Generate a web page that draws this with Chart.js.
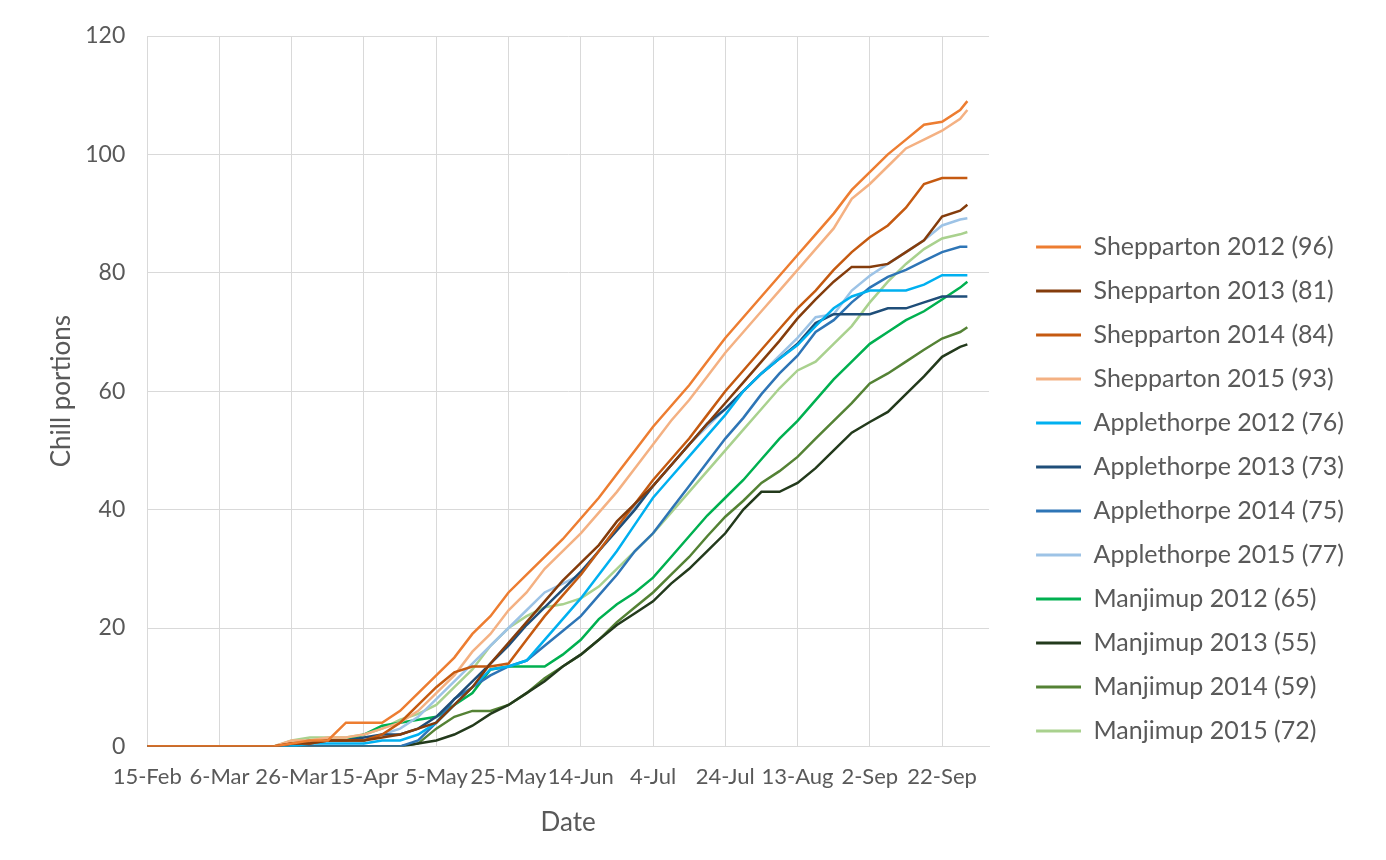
<!DOCTYPE html>
<html>
<head>
<meta charset="utf-8">
<script src="https://cdn.jsdelivr.net/npm/chart.js@4/dist/chart.umd.min.js"></script>
<style>
  html, body { margin: 0; padding: 0; background: #ffffff; }
  #wrap { width: 1386px; height: 860px; position: relative; }
</style>
</head>
<body>
<div id="wrap"><canvas id="c"></canvas></div>
<script>
// Days after 15-Feb (2012 calendar)
const days = [0,35,40,45,50,55,60,65,70,75,80,85,90,95,100,105,110,115,120,125,130,135,140,145,150,155,160,165,170,175,180,185,190,195,200,205,210,215,220,225,227];

const tickLabels = ['15-Feb','6-Mar','26-Mar','15-Apr','5-May','25-May','14-Jun','4-Jul','24-Jul','13-Aug','2-Sep','22-Sep'];

const seriesNames = [
  'Shepparton 2012 (96)','Shepparton 2013 (81)','Shepparton 2014 (84)','Shepparton 2015 (93)',
  'Applethorpe 2012 (76)','Applethorpe 2013 (73)','Applethorpe 2014 (75)','Applethorpe 2015 (77)',
  'Manjimup 2012 (65)','Manjimup 2013 (55)','Manjimup 2014 (59)','Manjimup 2015 (72)'
];

const shepparton2012 = [0,0,0.5,1,1,4,4,4,6,9,12,15,19,22,26,29,32,35,38.5,42,46,50,54,57.5,61,65,69,72.5,76,79.5,83,86.5,90,94,97,100,102.5,105,105.5,107.5,109];
const shepparton2013 = [0,0,0.5,0.5,1,1,1,1.5,2,3,4,7,10,14,17.5,21,24.5,28,31,34,38,41,44,47.5,51,54.5,58,61.5,65,68.5,72.3,75.5,78.5,81,81,81.5,83.5,85.5,89.5,90.5,91.5];
const shepparton2014 = [0,0,0.5,0.5,1,1,1,2,4,7,10,12.5,13.5,13.5,14,18,22,25.5,29,33,37,41,45,48.5,52,56,60,63.5,67,70.5,74,77,80.5,83.5,86,88,91,95,96,96,96];
const shepparton2015 = [0,0,1,1,1.5,1.5,2,3,4,6,9,12,16,19,23,26,30,33,36,39.5,43,47,51,55,58.5,62.5,66.5,70,73.5,77,80.5,84,87.5,92.5,95,98,101,102.5,104,106,107.5];
const applethorpe2012 = [0,0,0,0.5,0.5,0.5,0.5,1,1,2,4,7,10,13,13.5,14.5,18,21.5,25,29,33,37.5,42,45.5,49,52.5,56,60,63,65.5,67.8,71,74,76,77,77,77,78,79.6,79.6,79.6];
const applethorpe2013 = [0,0,0.5,1,1,1,1.5,2,2,3,5,8,11,14,17,20.5,23.5,26.5,29.5,33,36.5,40,44,47.5,51,54.5,57,60,63,65.5,68,71.5,73,73,73,74,74,75,76,76,76];
const applethorpe2014 = [0,0,0,0,0,0,0,0,0,1,4,8,10,12,13.5,14.5,17,19.5,22,25.5,29,33,36,40,44,48,52,55.5,59.5,63,66,70,72,75,77.5,79.3,80.5,82,83.5,84.4,84.4];
const applethorpe2015 = [0,0,0.5,1,1,1,1,2,3,5,8,11,14,17,20,23,26,27.5,29,33,37,40.5,44,47.5,51,54,57,60,63,66,69,72.5,73,77,79.5,81.5,83.5,85.5,88,89,89.2];
const manjimup2012 = [0,0,0.5,1,1,1,2,3.5,4,4.5,5,7,9,13,13.5,13.5,13.5,15.5,18,21.5,24,26,28.5,32,35.5,39,42,45,48.5,52,55,58.5,62,65,68,70,72,73.5,75.5,77.5,78.5];
const manjimup2013 = [0,0,0,0,0,0,0,0,0,0.5,1,2,3.5,5.5,7,9,11,13.5,15.5,18,20.5,22.5,24.5,27.5,30,33,36,40,43,43,44.5,47,50,53,54.8,56.5,59.5,62.5,65.8,67.5,67.9];
const manjimup2014 = [0,0,0,0,0,0,0,0,0,0.5,3,5,6,6,7,9,11.5,13.5,15.5,18,21,23.5,26,29,32,35.5,38.8,41.5,44.5,46.5,48.9,52,55,58,61.3,63,65,67,68.9,70,70.8];
const manjimup2015 = [0,0,1,1.5,1.5,1.5,2,3,4.5,5.5,7,10,13,17,20,22,23.5,24,25,27,30,33,36,39.5,43,46.5,50,53.5,57,60.5,63.5,65,68,71,75,78.5,81.5,84,85.8,86.5,86.9];

const seriesValues = [shepparton2012, shepparton2013, shepparton2014, shepparton2015,
  applethorpe2012, applethorpe2013, applethorpe2014, applethorpe2015,
  manjimup2012, manjimup2013, manjimup2014, manjimup2015];

const seriesColors = ['#ED7D31','#843C0C','#C55A11','#F4B183',
  '#00B0F0','#1F4E79','#2E75B6','#9DC3E6',
  '#00B050','#233A1C','#548235','#A9D18E'];

const FONT = 'Lato, "Open Sans", sans-serif';
const TEXT = '#595959';

function legendLine(color) {
  const cv = document.createElement('canvas');
  cv.width = 73; cv.height = 6;
  const g = cv.getContext('2d');
  g.strokeStyle = color; g.lineWidth = 3;
  g.beginPath(); g.moveTo(28, 3); g.lineTo(73, 3); g.stroke();
  return cv;
}

function build() {
  const legendMarks = seriesColors.map(legendLine);
  const datasets = seriesNames.map((name, i) => ({
    label: name,
    data: days.map((d, k) => ({x: d, y: seriesValues[i][k]})),
    borderColor: seriesColors[i],
    backgroundColor: seriesColors[i],
    borderWidth: 2.5,
    pointRadius: 0,
    tension: 0,
    fill: false
  }));

  new Chart(document.getElementById('c'), {
    type: 'line',
    data: { datasets },
    options: {
      responsive: true,
      maintainAspectRatio: false,
      animation: false,
      layout: { padding: { top: 36, right: 32, bottom: 22, left: 46 } },
      plugins: {
        tooltip: { enabled: false },
        legend: {
          position: 'right',
          align: 'center',
          maxWidth: 420,
          title: { display: true, text: '', font: { size: 10, lineHeight: 1 }, padding: { top: 94, bottom: 0 } },
          labels: {
            color: TEXT,
            font: { family: FONT, size: 25 },
            padding: 19,
            usePointStyle: true,
            pointStyleWidth: 73,
            generateLabels(chart) {
              const items = Chart.defaults.plugins.legend.labels.generateLabels(chart);
              items.forEach((it, i) => { it.pointStyle = legendMarks[i]; });
              return items;
            }
          }
        }
      },
      scales: {
        x: {
          type: 'linear',
          min: 0,
          max: 233,
          grid: { color: '#d9d9d9', drawTicks: false },
          border: { color: '#d9d9d9' },
          ticks: {
            stepSize: 20,
            includeBounds: false,
            autoSkip: false,
            maxRotation: 0,
            padding: 17,
            color: TEXT,
            font: { family: FONT, size: 22 },
            callback: (v) => { const i = v / 20; return Number.isInteger(i) && tickLabels[i] ? tickLabels[i] : ''; }
          },
          title: { display: true, text: 'Date', color: TEXT, font: { family: FONT, size: 26 }, padding: { top: 0, bottom: 0 } }
        },
        y: {
          min: 0,
          max: 120,
          grid: { color: '#d9d9d9', drawTicks: false },
          border: { color: '#d9d9d9' },
          ticks: { stepSize: 20, padding: 22, color: TEXT, font: { family: FONT, size: 23 } },
          title: { display: true, text: 'Chill portions', color: TEXT, font: { family: FONT, size: 26 }, padding: { top: 0, bottom: -14 } }
        }
      }
    }
  });
}

const fontLoads = ['21px Lato', '22px Lato', '23px Lato', '25px Lato', '26px Lato'].map(f => document.fonts.load(f));
Promise.all(fontLoads).then(build, build);
</script>
</body>
</html>
